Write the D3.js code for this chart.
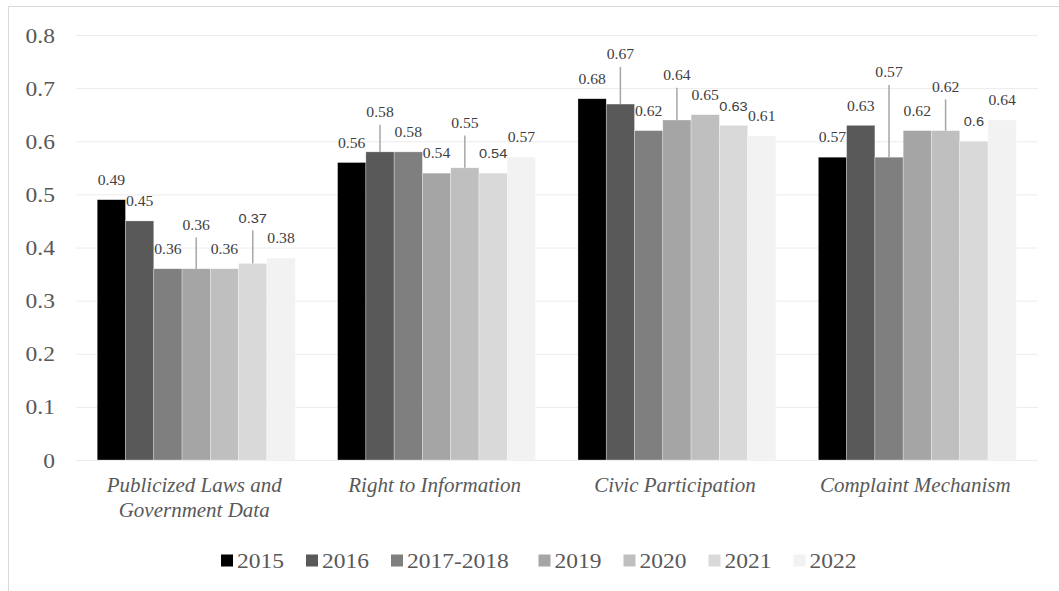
<!DOCTYPE html>
<html>
<head>
<meta charset="utf-8">
<script src="https://cdn.jsdelivr.net/npm/d3@7"></script>
<style>
  html, body { margin: 0; padding: 0; background: #fff; }
  svg { display: block; }
  .serif { font-family: "Liberation Serif", Tinos, "Times New Roman", Times, "DejaVu Serif", serif; }
  .sans { font-family: "Liberation Sans", Arimo, Arial, "DejaVu Sans", sans-serif; }
</style>
</head>
<body>
<svg id="chart" width="1059" height="591"></svg>
<script>
// ---------- data ----------
const categories = ["Publicized Laws and Government Data", "Right to Information", "Civic Participation", "Complaint Mechanism"];
const categoryLines = [["Publicized Laws and", "Government Data"], ["Right to Information"], ["Civic Participation"], ["Complaint Mechanism"]];
const seriesNames = ["2015", "2016", "2017-2018", "2019", "2020", "2021", "2022"];
const values2015 = [0.49, 0.56, 0.68, 0.57];
const values2016 = [0.45, 0.58, 0.67, 0.63];
const values2017_2018 = [0.36, 0.58, 0.62, 0.57];
const values2019 = [0.36, 0.54, 0.64, 0.62];
const values2020 = [0.36, 0.55, 0.65, 0.62];
const values2021 = [0.37, 0.54, 0.63, 0.60];
const values2022 = [0.38, 0.57, 0.61, 0.64];
const yTickValues = [0, 0.1, 0.2, 0.3, 0.4, 0.5, 0.6, 0.7, 0.8];
const yTickLabels = ["0", "0.1", "0.2", "0.3", "0.4", "0.5", "0.6", "0.7", "0.8"];

// ---------- styling / annotation layout ----------
const seriesColors = ["#000000", "#595959", "#7f7f7f", "#a5a5a5", "#bfbfbf", "#d9d9d9", "#f2f2f2"];
// extra upward lift (px) of data labels that were moved and got leader lines
const labelLift = [
  [0, 0, 0, 0],
  [0, 20, 30, 0],
  [0, 0, 0, 65],
  [24, 0, 25, 0],
  [0, 25, 0, 24],
  [26, 0, 0, 0],
  [0, 0, 0, 0]
];
const seriesValues = [values2015, values2016, values2017_2018, values2019, values2020, values2021, values2022];

const SX = 1.12; // horizontal text stretch of numeric texts in the original image

const svg = d3.select("#chart");
const W = 1059, H = 591;

// chart border (top + left visible)
svg.append("path")
  .attr("d", `M8.5,${H} L8.5,6.5 L${W},6.5`)
  .attr("fill", "none").attr("stroke", "#d9d9d9").attr("stroke-width", 1);

const plotLeft = 76, plotRight = 1037.5, plotTop = 35, plotBottom = 460;

const x0 = d3.scaleBand().domain(categories).range([plotLeft, plotRight])
  .paddingInner(1.5 / 8.5).paddingOuter(0.75 / 8.5);
const x1 = d3.scaleBand().domain(seriesNames).range([0, x0.bandwidth()]).padding(0);
const y = d3.scaleLinear().domain([0, 0.8]).range([plotBottom, plotTop]);

// y axis with gridlines
const yAxis = d3.axisLeft(y).tickValues(yTickValues)
  .tickFormat((d, i) => yTickLabels[i])
  .tickSizeInner(-(plotRight - plotLeft)).tickSizeOuter(0).tickPadding(21);
const gy = svg.append("g").attr("transform", `translate(${plotLeft},0)`).call(yAxis)
  .attr("font-family", null).attr("font-size", null);
gy.select(".domain").remove();
gy.selectAll(".tick line").attr("stroke", "#ececec").attr("stroke-width", 1);
gy.selectAll(".tick text")
  .attr("x", null).attr("dy", null)
  .attr("class", "serif")
  .attr("transform", "translate(-21,7) scale(" + SX + ",1)")
  .style("font-size", "21px").attr("fill", "#595959")
  .attr("text-anchor", "end");

// bars
const rows = [];
seriesNames.forEach((s, si) => {
  categories.forEach((c, ci) => {
    rows.push({ s, si, c, ci, v: seriesValues[si][ci] });
  });
});

const gBars = svg.append("g");
gBars.selectAll("rect").data(rows).join("rect")
  .attr("x", d => x0(d.c) + x1(d.s))
  .attr("y", d => y(d.v))
  .attr("width", x1.bandwidth())
  .attr("height", d => y(0) - y(d.v))
  .attr("fill", d => seriesColors[d.si])
  .attr("stroke", "rgba(255,255,255,0.5)").attr("stroke-width", 0.6);

// leader lines
const gLab = svg.append("g");
rows.filter(d => labelLift[d.si][d.ci] > 0).forEach(d => {
  const cx = x0(d.c) + x1(d.s) + x1.bandwidth() / 2;
  const center = y(d.v) - 19.5 - labelLift[d.si][d.ci];
  gLab.append("line")
    .attr("x1", cx).attr("x2", cx)
    .attr("y1", y(d.v)).attr("y2", center + 12.3)
    .attr("stroke", "#a6a6a6").attr("stroke-width", 1.5);
});

// data labels
rows.forEach(d => {
  const cx = x0(d.c) + x1(d.s) + x1.bandwidth() / 2;
  const center = y(d.v) - 19.5 - labelLift[d.si][d.ci];
  gLab.append("text")
    .attr("class", d.s === "2021" ? "sans" : "serif")
    .attr("transform", `translate(${cx},${center + 4.7}) scale(${SX},1)`)
    .attr("text-anchor", "middle")
    .style("font-size", d.s === "2021" ? "13px" : "14px")
    .attr("fill", "#404040")
    .text(String(d.v));
});

// category labels
const gCat = svg.append("g");
categories.forEach((c, ci) => {
  const cx = x0(c) + x0.bandwidth() / 2 - 2;
  categoryLines[ci].forEach((line, li) => {
    gCat.append("text")
      .attr("class", "serif")
      .attr("x", cx).attr("y", 492 + li * 24.5)
      .attr("text-anchor", "middle")
      .style("font-style", "italic")
      .style("font-size", "21px").attr("fill", "#595959")
      .text(line);
  });
});

// legend (Excel-like entry slots: fixed part + per-character part)
const gLeg = svg.append("g");
let cursor = 221;
seriesNames.forEach((s, si) => {
  const g = gLeg.append("g").attr("transform", `translate(${cursor},560.5)`);
  g.append("rect").attr("x", 0).attr("y", -6).attr("width", 12).attr("height", 12)
    .attr("fill", seriesColors[si]);
  g.append("text")
    .attr("class", "serif")
    .attr("transform", `translate(16,7) scale(${SX},1)`)
    .style("font-size", "21px").attr("fill", "#595959")
    .text(s);
  cursor += 35 + 12.5 * s.length;
});
</script>
</body>
</html>
